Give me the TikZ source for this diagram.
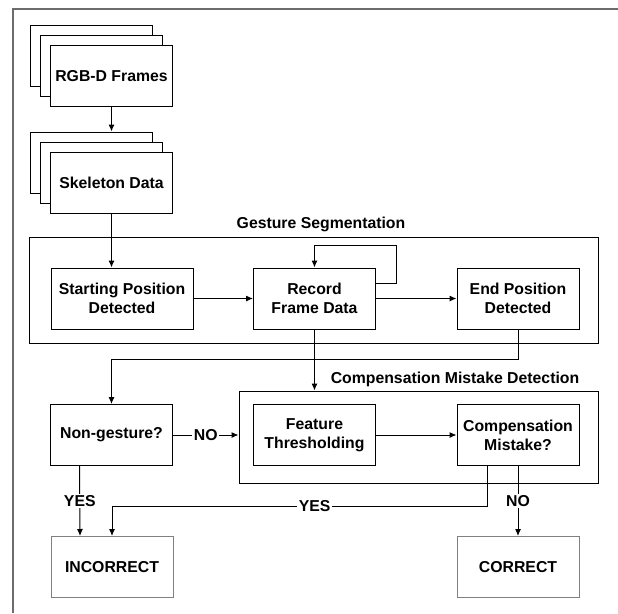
\documentclass[tikz,border=0pt]{standalone}
\usepackage{fontspec}
\setmainfont{Liberation Sans}
\usetikzlibrary{positioning,calc,arrows.meta}

\begin{document}
\begin{tikzpicture}[
	x=1pt, y=-1pt,
	>={Latex[length=7pt,width=6pt]},
	main/.style={rectangle, draw=black, fill=white, line width=1pt, text centered, align=center, minimum width=122pt, minimum height=61pt, inner sep=0pt, font=\bfseries\fontsize{15.8}{19}\selectfont},
	result/.style={main, draw=gray},
	group/.style={rectangle, draw=black, line width=1pt, inner sep=0pt},
	title/.style={inner sep=0pt, font=\bfseries\fontsize{15.8}{19}\selectfont},
	lbl/.style={fill=white, inner sep=1.5pt, font=\bfseries\fontsize{15.8}{19}\selectfont},
	frame/.style={draw=gray!85!black, line width=1.6pt},
	conn/.style={->, line width=1pt}
	]

	\useasboundingbox (0,0) rectangle (618,613);
	\draw [frame] (13,613) -- (13,9) -- (618,9);

	\node (gesture) [group, minimum width=569pt, minimum height=106pt] at (313.5,290) {};
	\node (gesturetitle) [title] at (321,224) {Gesture Segmentation};
	\node (cmd) [group, minimum width=359pt, minimum height=92pt] at (418.5,437) {};
	\node (cmdtitle) [title] at (455,379) {Compensation Mistake Detection};

	\node (rgbback) [main] at (91.5,56) {};
	\node (rgbmid) [main] at (101.5,66) {};
	\node (rgb) [main] at (111.5,76) {RGB-D Frames};

	\node (skelback) [main] at (91.5,162.5) {};
	\node (skelmid) [main] at (101.5,172.5) {};
	\node (skel) [main] at (111.5,182.5) {Skeleton Data};

		\node (start) [main, minimum width=142pt] at (122,298.5) {Starting Position\\Detected};
		\node (record) [main] at (314.5,298.5) {Record\\Frame Data};
		\node (end) [main] at (518,298.5) {End Position\\Detected};
		\coordinate (loopc) at (396,245);

		\node (nongest) [main] at (111.5,435) {Non-gesture?};
		\node (feature) [main] at (314.5,435) {Feature\\Thresholding};
		\node (comp) [main] at (518,435) {Compensation\\Mistake?};

		\node (incorrect) [result] at (112,567) {INCORRECT};
		\node (correct) [result] at (518,567) {CORRECT};

	\draw [conn] (rgb.south)--(rgb.south |- skelback.north);
	\draw [conn] (skel.south)--(skel.south |- start.north);

	\draw [conn] (start.east)--(record.west);
	\draw [conn] (record.east)--(end.west);
	\draw [conn] ([yshift=15.5pt]record.east)-|(loopc)-|(record.north);

	\draw [conn] (record.south)--(record.south |- cmd.north);
	\draw [conn] (end.south)--++(0,30)-|(nongest.north);

	\draw [conn] (nongest.east)-- node[lbl] {NO} (nongest.east -| cmd.west);
	\draw [conn] (feature.east)--(comp.west);

	\draw [conn] ($(nongest.south west)!0.24!(nongest.south east)$)-- node[lbl] {YES} ($(incorrect.north west)!0.24!(incorrect.north east)$);
	\draw [conn] ($(comp.south west)!0.25!(comp.south east)$)--++(0,40)-| node[lbl, pos=0.23] {YES} (incorrect.north);
	\draw [conn] (comp.south)-- node[lbl] {NO} (correct.north);

\end{tikzpicture}
\end{document}
